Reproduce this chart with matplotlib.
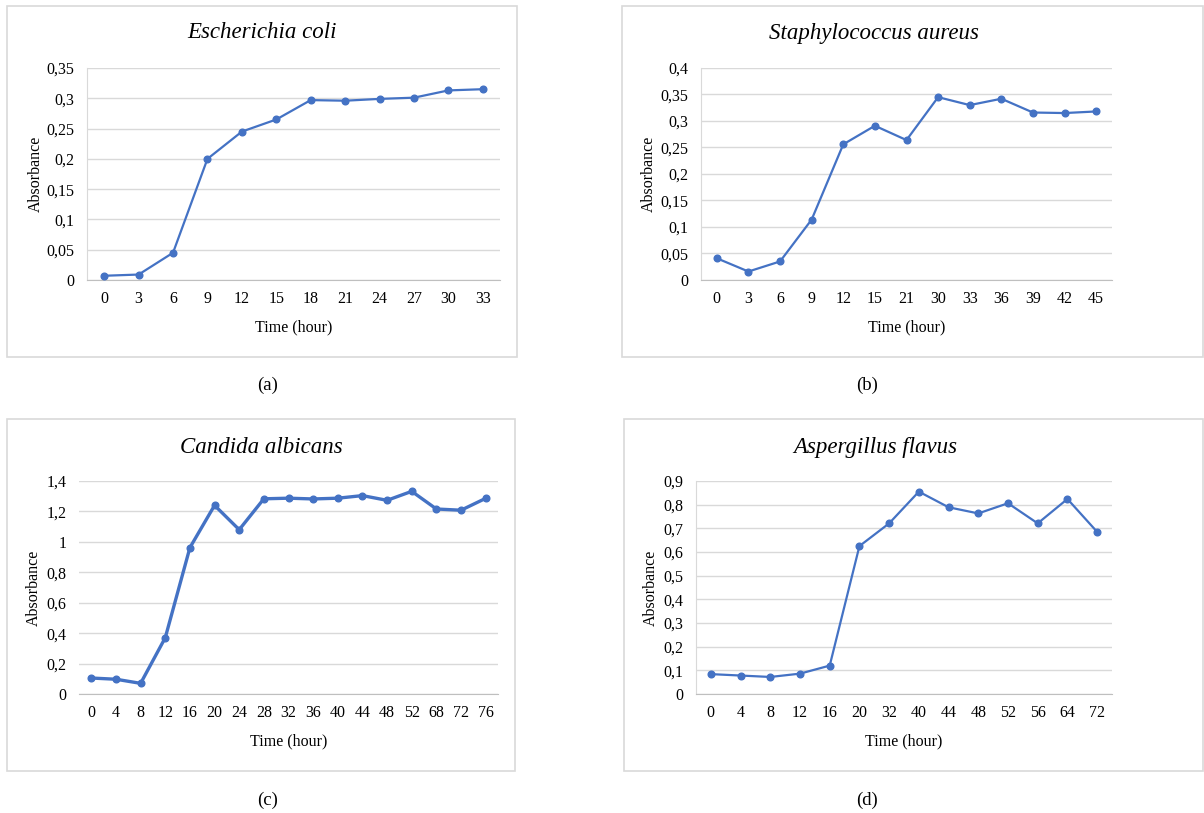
import matplotlib
matplotlib.use("Agg")
import matplotlib.pyplot as plt
from matplotlib.patches import Rectangle
from matplotlib.ticker import FuncFormatter

plt.rcParams['font.family'] = ['Liberation Serif', 'DejaVu Serif']

# data
ecoli_t = ['0', '3', '6', '9', '12', '15', '18', '21', '24', '27', '30', '33']
ecoli_abs = [0.007, 0.009, 0.045, 0.200, 0.245, 0.265, 0.297, 0.296, 0.299, 0.301, 0.313, 0.315]

saureus_t = ['0', '3', '6', '9', '12', '15', '21', '30', '33', '36', '39', '42', '45']
saureus_abs = [0.041, 0.016, 0.035, 0.114, 0.256, 0.291, 0.264, 0.345, 0.330, 0.342, 0.316, 0.315, 0.318]

calbicans_t = ['0', '4', '8', '12', '16', '20', '24', '28', '32', '36', '40', '44', '48', '52', '68', '72', '76']
calbicans_abs = [0.105, 0.097, 0.070, 0.370, 0.962, 1.240, 1.080, 1.283, 1.287, 1.282, 1.287, 1.304, 1.273, 1.332, 1.216, 1.208, 1.286]

aflavus_t = ['0', '4', '8', '12', '16', '20', '32', '40', '44', '48', '52', '56', '64', '72']
aflavus_abs = [0.084, 0.078, 0.072, 0.086, 0.120, 0.625, 0.721, 0.855, 0.789, 0.763, 0.806, 0.721, 0.824, 0.685]

W, H = 1204, 813
BLUE = '#4472C4'
fig = plt.figure(figsize=(W / 100, H / 100), dpi=100)


def fmt(v, pos):
    s = ('%.2f' % v).rstrip('0').rstrip('.')
    return s.replace('.', ',')


def panel(box, area, title, title_xy, cap, cap_xy, cats, vals, ymax, ystep,
          ylab_x, xlab_y, lw=1.6, left_spine=True):
    # outer chart frame (pixel coords)
    bx0, by0, bx1, by1 = box
    fig.patches.append(Rectangle((bx0 / W, 1 - by1 / H), (bx1 - bx0) / W, (by1 - by0) / H,
                                 transform=fig.transFigure, fill=False,
                                 edgecolor='#d9d9d9', lw=1.2))
    l, t, r, b = area
    ax = fig.add_axes([l / W, 1 - b / H, (r - l) / W, (b - t) / H])
    x = list(range(len(cats)))
    ax.plot(x, vals, color=BLUE, lw=lw, marker='o', ms=4.8, zorder=3)
    ax.set_xlim(-0.5, len(cats) - 0.5)
    ax.set_ylim(0, ymax)
    n = int(round(ymax / ystep))
    ax.set_yticks([i * ystep for i in range(n + 1)])
    ax.yaxis.set_major_formatter(FuncFormatter(fmt))
    ax.set_xticks(x)
    ax.set_xticklabels(cats)
    ax.tick_params(length=0, labelsize=11.5, pad=9)
    ax.tick_params(axis='x', pad=8)
    ax.grid(axis='y', color='#d9d9d9', lw=1)
    ax.set_axisbelow(True)
    for s in ['top', 'right']:
        ax.spines[s].set_visible(False)
    ax.spines['bottom'].set_color('#bfbfbf')
    if left_spine:
        ax.spines['left'].set_color('#d9d9d9')
    else:
        ax.spines['left'].set_visible(False)
    ax.set_xlabel('Time (hour)', fontsize=11.5)
    ax.xaxis.label.set_va('center')
    ax.xaxis.set_label_coords(0.5, (b - xlab_y) / (b - t))
    ax.set_ylabel('Absorbance', fontsize=11.5)
    ax.yaxis.label.set_va('center')
    ax.yaxis.set_label_coords((ylab_x - l) / (r - l), 0.5)
    fig.text(title_xy[0] / W, 1 - title_xy[1] / H, title, style='italic',
             fontsize=16.5, ha='center', va='center')
    fig.text(cap_xy[0] / W, 1 - cap_xy[1] / H, cap, fontsize=13.5,
             ha='center', va='center')
    return ax


panel((7, 6, 517, 357), (87, 68, 500, 280), 'Escherichia coli', (262, 33),
      '(a)', (268, 385), ecoli_t, ecoli_abs, 0.35, 0.05, 36, 327)

panel((622, 6, 1203, 357), (701, 68, 1112, 280), 'Staphylococcus aureus', (874, 33),
      '(b)', (867, 385), saureus_t, saureus_abs, 0.4, 0.05, 649, 327)

panel((7, 419, 515, 771), (79, 481, 498, 694), 'Candida albicans', (261, 447),
      '(c)', (268, 800), calbicans_t, calbicans_abs, 1.4, 0.2, 34, 741,
      lw=2.4, left_spine=False)

panel((624, 419, 1203, 771), (696, 481, 1112, 694), 'Aspergillus flavus', (875, 447),
      '(d)', (867, 800), aflavus_t, aflavus_abs, 0.9, 0.1, 651, 741)

fig.savefig('out.png', dpi=100, facecolor='white')
